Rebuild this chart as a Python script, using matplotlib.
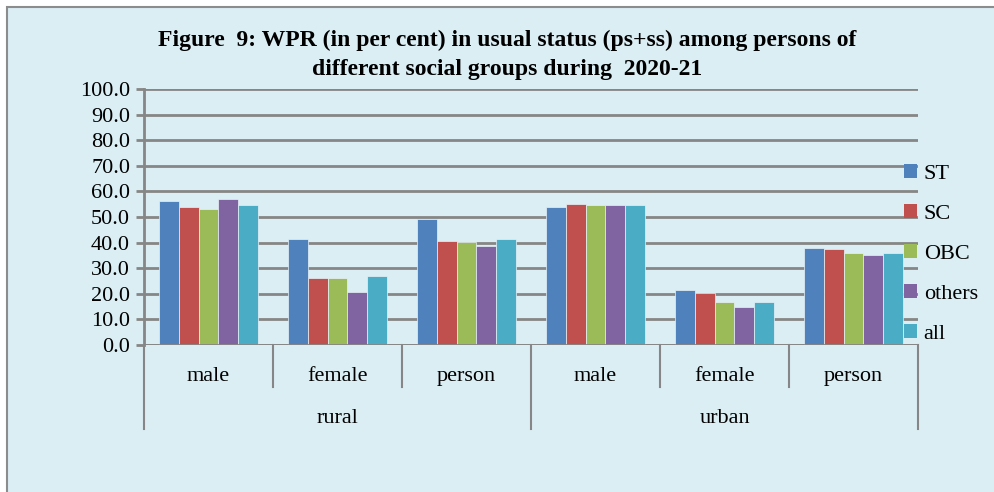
import numpy as np
import matplotlib
matplotlib.use("Agg")
import matplotlib.pyplot as plt
from matplotlib.patches import Rectangle, Patch
from matplotlib.lines import Line2D

plt.rcParams['font.family'] = ['Liberation Serif', 'DejaVu Serif']

# WPR values by social group for each sector/sex
areas = ['rural', 'urban']
sexes = ['male', 'female', 'person']
groups = ['ST', 'SC', 'OBC', 'others', 'all']
ST = [56.4, 41.2, 49.1, 53.8, 21.6, 37.9]
SC = [54.0, 26.3, 40.7, 55.2, 20.1, 37.4]
OBC = [53.2, 26.3, 40.1, 54.7, 16.6, 36.1]
others = [57.0, 20.6, 38.8, 54.7, 14.6, 35.2]
all_ = [54.7, 26.8, 41.2, 54.7, 16.6, 36.1]
series = [ST, SC, OBC, others, all_]
colors = ['#4F81BD', '#C0504D', '#9BBB59', '#8064A2', '#4BACC6']

bg = '#DBEEF4'
grid_c = '#868686'
fs = 16

fig = plt.figure(figsize=(9.95, 4.92), dpi=100)
fig.patch.set_facecolor('white')
fig.patches.append(Rectangle((7 / 995, -0.05), 1.05, 1 - 7 / 492 + 0.05,
                             transform=fig.transFigure, facecolor=bg,
                             edgecolor='#8C8C8C', linewidth=1.5, zorder=-1))

ax = fig.add_axes([144 / 995, (492 - 344.7) / 492, (918 - 144) / 995, 255.4 / 492])
ax.set_zorder(2)
ax.set_facecolor('none')

n_cat = len(ST)
x = np.arange(n_cat)
bw = 0.77 / len(series)
for i, (vals, c, g) in enumerate(zip(series, colors, groups)):
    ax.bar(x - 0.385 + bw * (i + 0.5), vals, width=bw, color=c,
           edgecolor='#E8F2F8', linewidth=0.5, label=g, zorder=3)

ax.set_xlim(-0.5, n_cat - 0.5)
ax.set_ylim(0, 100)
ax.set_yticks(np.arange(0, 101, 10))
ax.set_yticklabels([f'{v:.1f}' for v in np.arange(0, 101, 10)], fontsize=fs)
ax.yaxis.grid(True, color=grid_c, linewidth=2, zorder=1)
ax.tick_params(axis='y', length=6, width=2, color=grid_c, pad=4)
ax.set_xticks([])
for s in ['top', 'right', 'bottom']:
    ax.spines[s].set_visible(False)
ax.spines['left'].set_color(grid_c)
ax.spines['left'].set_linewidth(2)
ax.axhline(0, color=grid_c, linewidth=2, zorder=4)

# two-level category axis below the plot
trans = ax.get_xaxis_transform()
px = 1 / 255.4
for b in np.arange(-0.5, n_cat, 1):
    outer = (b - (-0.5)) % 3 == 0
    y_end = -84 * px if outer else -42 * px
    ax.add_line(Line2D([b, b], [0, y_end], transform=trans, color=grid_c,
                       linewidth=1.5, clip_on=False))
for j, xi in enumerate(x):
    ax.text(xi, -32 * px, sexes[j % 3], transform=trans, ha='center',
            va='center', fontsize=fs)
for k, a in enumerate(areas):
    ax.text(3 * k + 1, -74 * px, a, transform=trans, ha='center',
            va='center', fontsize=fs)

fig.text(0.51, 1 - 55 / 492, 'Figure  9: WPR (in per cent) in usual status (ps+ss) among persons of\ndifferent social groups during  2020-21',
         ha='center', va='center', fontsize=17, fontweight='bold', linespacing=1.45)

handles = [Patch(facecolor=c, edgecolor='none') for c in colors]
fig.legend(handles, groups, loc='center left', bbox_to_anchor=(897 / 995, 1 - 254 / 492),
           frameon=False, prop={'family': 'Liberation Serif', 'size': fs},
           handlelength=0.6, handleheight=0.6, borderaxespad=0, borderpad=0.3,
           handletextpad=0.3, labelspacing=0.9)

fig.savefig('out.png', dpi=100)
